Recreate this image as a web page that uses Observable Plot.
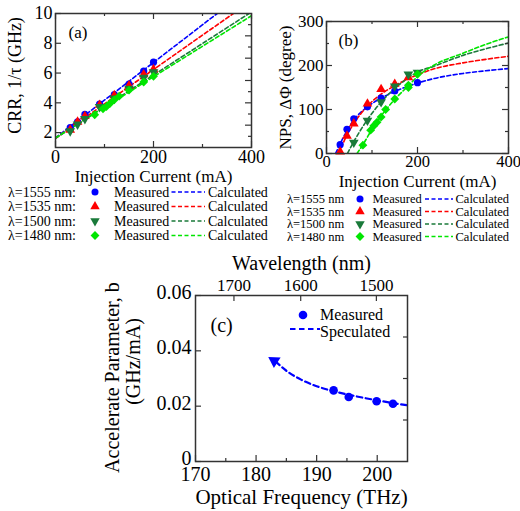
<!DOCTYPE html>
<html><head><meta charset="utf-8">
<script src="https://cdn.jsdelivr.net/npm/d3@7"></script>
<script src="https://cdn.jsdelivr.net/npm/@observablehq/plot@0.6"></script>
<style>
body{margin:0;background:#fff;}
#wrap{position:relative;width:520px;height:511px;overflow:hidden;background:#fff;}
#wrap svg{position:absolute;}
</style></head><body><div id="wrap"></div>
<script>
// ---------------- DATA ----------------
const seriesNames = ["λ=1555 nm", "λ=1535 nm", "λ=1500 nm", "λ=1480 nm"];
const seriesColors = ["#0000ff", "#ff0000", "#1a7a3a", "#00e600"];
const seriesSymbols = ["circle", "triangle", "triangle", "diamond2"];
const seriesRotate = [0, 0, 180, 0];

// (a) CRR measured
const aI1555 = [30, 45, 60, 90, 120, 150, 180, 200];
const aCRR1555 = [2.33, 2.72, 3.22, 3.92, 4.55, 5.25, 6.13, 6.73];
const aI1535 = [30, 45, 60, 90, 120, 150, 180, 200];
const aCRR1535 = [2.18, 2.72, 3.1, 3.85, 4.5, 5.15, 5.9, 6.25];
const aI1500 = [30, 45, 60, 90, 120, 150, 180, 200];
const aCRR1500 = [2.1, 2.55, 2.92, 3.73, 4.3, 4.96, 5.69, 6.07];
const aI1480 = [80, 97, 104, 111, 120, 130, 150, 180, 200];
const aCRR1480 = [3.2, 3.6, 3.75, 3.95, 4.2, 4.45, 4.85, 5.4, 5.78];
// (a) CRR calculated (straight lines, end points)
const aCalcI1555 = [0, 330], aCalcCRR1555 = [1.65, 10];
const aCalcI1535 = [0, 363], aCalcCRR1535 = [1.62, 10];
const aCalcI1500 = [0, 395], aCalcCRR1500 = [1.62, 10];
const aCalcI1480 = [0, 400], aCalcCRR1480 = [1.65, 9.85];

// (b) NPS measured
const bI1555 = [30, 45, 60, 90, 120, 150, 200];
const bNPS1555 = [20, 55, 79, 106, 126, 142, 161];
const bI1535 = [30, 45, 60, 90, 120, 150, 180];
const bNPS1535 = [4, 40, 68, 113, 146, 158, 173];
const bI1500 = [60, 90, 120, 150, 180, 200];
const bNPS1500 = [25, 75, 117, 153, 180, 184];
const bI1480 = [80, 97, 104, 111, 120, 130, 150, 180, 180, 200];
const bNPS1480 = [19, 53, 63, 71, 83, 100, 124, 150, 155, 180];
// (b) NPS calculated
const bCalcI1555 = [20, 30, 45, 60, 90, 120, 150, 200, 235, 300, 350, 400];
const bCalcNPS1555 = [0, 22, 52, 76, 106, 126, 141, 160, 170, 182, 188, 193];
const bCalcI1535 = [25, 30, 45, 60, 90, 120, 150, 180, 200, 235, 300, 350, 400];
const bCalcNPS1535 = [0, 9, 42, 68, 108, 135, 154, 170, 179, 192, 206, 214, 221];
const bCalcI1500 = [46, 60, 90, 120, 150, 180, 200, 235, 300, 350, 400];
const bCalcNPS1500 = [0, 27, 77, 117, 148, 172, 185, 198, 223, 238, 251];
const bCalcI1480 = [67, 80, 100, 120, 150, 180, 200, 235, 300, 350, 400];
const bCalcNPS1480 = [0, 20, 55, 85, 123, 154, 175, 200, 228, 248, 265];

// (c) accelerate parameter
const cFreq = [192.8, 195.3, 199.9, 202.6];
const cB = [0.0257, 0.0233, 0.0218, 0.0209];
const cSpecFreq = [183.2, 185, 187.5, 190, 193, 196, 200, 205];
const cSpecB = [0.0362, 0.0328, 0.0295, 0.0272, 0.0253, 0.0238, 0.0221, 0.0203];
const cArrowFreq = [183.0];
const cArrowB = [0.0364];

// tick labels
const aXTicks = [0, 200, 400], aXMinor = [100, 300];
const aYTicks = [2, 4, 6, 8, 10];
const aRightMajor = [2.5, 4, 5.5, 7, 8.5], aRightMinor = [1.75, 3.25, 4.75, 6.25, 7.75, 9.25];
const bXTicks = [0, 200, 400], bXMinor = [100, 300];
const bYTicks = [0, 100, 200, 300], bYMinor = [50, 150, 250];
const cXTicks = [170, 180, 190, 200], cXMinor = [175, 185, 195];
const cYTicks = [0, 0.02, 0.04, 0.06], cRightTicks = [0.015, 0.03, 0.045];
const cWaveTicks = [1700, 1600, 1500];
const C_LIGHT = 299792.458; // nm*THz

// ---------------- HELPERS ----------------
const FONT = "'Liberation Serif','Times New Roman',serif";
const INK = "#333";
const zip = (xs, ys, kx, ky) => xs.map((x, j) => ({[kx]: x, [ky]: ys[j]}));
function xt(vals, len, innerH, side) {
  const o = {x: d => d, stroke: INK, strokeWidth: 1.2};
  if (side === "bottom") o.insetTop = innerH - len; else o.insetBottom = innerH - len;
  return Plot.tickX(vals, o);
}
function yt(vals, len, innerW, side) {
  const o = {y: d => d, stroke: INK, strokeWidth: 1.2};
  if (side === "left") o.insetRight = innerW - len; else o.insetLeft = innerW - len;
  return Plot.tickY(vals, o);
}
const wrap = document.getElementById("wrap");
function place(el, left, top) { el.style.left = left + "px"; el.style.top = top + "px"; wrap.appendChild(el); }

// ---------------- PANEL A ----------------
{
  const W = 260, H = 190, m = {t: 13, r: 9, b: 43, l: 55};
  const iw = W - m.l - m.r, ih = H - m.t - m.b;
  const meas = [[aI1555, aCRR1555], [aI1535, aCRR1535], [aI1500, aCRR1500], [aI1480, aCRR1480]];
  const calc = [[aCalcI1555, aCalcCRR1555], [aCalcI1535, aCalcCRR1535], [aCalcI1500, aCalcCRR1500], [aCalcI1480, aCalcCRR1480]];
  const marks = [];
  calc.forEach(([xs, ys], i) => marks.push(Plot.line(zip(xs, ys, "I", "v"), {x: "I", y: "v", stroke: seriesColors[i], strokeWidth: 1.6, strokeDasharray: "4,2.5", clip: true})));
  meas.forEach(([xs, ys], i) => marks.push(Plot.dot(zip(xs, ys, "I", "v"), {x: "I", y: "v", fill: seriesColors[i], symbol: seriesSymbols[i], rotate: seriesRotate[i], r: i === 3 ? 4 : 3.6})));
  marks.push(
    Plot.frame({stroke: INK, strokeWidth: 1.5}),
    xt(aXTicks, 6, ih, "bottom"), xt(aXMinor, 3, ih, "bottom"), xt(aXTicks, 6, ih, "top"), xt(aXMinor, 3, ih, "top"),
    yt(aYTicks, 6, iw, "left"), yt(aRightMajor, 6, iw, "right"), yt(aRightMinor, 3, iw, "right"),
    Plot.axisX({ticks: aXTicks, tickSize: 0, tickPadding: 3, label: null, tickFormat: d => String(d)}),
    Plot.axisY({ticks: aYTicks, tickSize: 0, tickPadding: 3, label: null, tickFormat: d => String(d)}),
    Plot.text(["(a)"], {text: d => d, frameAnchor: "top-left", dx: 13, dy: 12, textAnchor: "start", lineAnchor: "top", fontSize: 17}),
    Plot.text(["CRR, 1/τ (GHz)"], {text: d => d, frameAnchor: "left", rotate: -90, dx: -40, dy: -5, textAnchor: "middle", lineAnchor: "middle", fontSize: 18}),
    Plot.text(["Injection Current (mA)"], {text: d => d, frameAnchor: "bottom", dy: 22, textAnchor: "middle", lineAnchor: "top", fontSize: 17})
  );
  const p = Plot.plot({
    width: W, height: H, marginTop: m.t, marginRight: m.r, marginBottom: m.b, marginLeft: m.l,
    style: {fontFamily: FONT, fontSize: "18px", background: "transparent", overflow: "visible", color: "#000"},
    x: {domain: [0, 400], label: null}, y: {domain: [1, 10], label: null},
    marks
  });
  place(p, 0, 0);
}

// ---------------- PANEL B ----------------
{
  const W = 258, H = 190, m = {t: 21, r: 10, b: 37, l: 66};
  const iw = W - m.l - m.r, ih = H - m.t - m.b;
  const meas = [[bI1555, bNPS1555], [bI1535, bNPS1535], [bI1500, bNPS1500], [bI1480, bNPS1480]];
  const calc = [[bCalcI1555, bCalcNPS1555], [bCalcI1535, bCalcNPS1535], [bCalcI1500, bCalcNPS1500], [bCalcI1480, bCalcNPS1480]];
  const marks = [];
  calc.forEach(([xs, ys], i) => marks.push(Plot.line(zip(xs, ys, "I", "v"), {x: "I", y: "v", stroke: seriesColors[i], strokeWidth: 1.6, strokeDasharray: "4,2.5", curve: "monotone-x", clip: true})));
  meas.forEach(([xs, ys], i) => marks.push(Plot.dot(zip(xs, ys, "I", "v"), {x: "I", y: "v", fill: seriesColors[i], symbol: seriesSymbols[i], rotate: seriesRotate[i], r: i === 3 ? 4 : 3.6})));
  marks.push(
    Plot.frame({stroke: INK, strokeWidth: 1.5}),
    xt(bXTicks, 6, ih, "bottom"), xt(bXMinor, 3, ih, "bottom"), xt(bXTicks, 6, ih, "top"), xt(bXMinor, 3, ih, "top"),
    yt(bYTicks, 6, iw, "left"), yt(bYMinor, 3, iw, "left"), yt(bYTicks, 6, iw, "right"), yt(bYMinor, 3, iw, "right"),
    Plot.axisX({ticks: bXTicks, tickSize: 0, tickPadding: 2, label: null, tickFormat: d => String(d), fontSize: 16.5}),
    Plot.axisY({ticks: bYTicks, tickSize: 0, tickPadding: 3, label: null, tickFormat: d => String(d)}),
    Plot.text(["(b)"], {text: d => d, frameAnchor: "top-left", dx: 12, dy: 12, textAnchor: "start", lineAnchor: "top", fontSize: 17}),
    Plot.text(["NPS, ΔΦ (degree)"], {text: d => d, frameAnchor: "left", rotate: -90, dx: -41, dy: 0, textAnchor: "middle", lineAnchor: "middle", fontSize: 17}),
    Plot.text(["Injection Current (mA)"], {text: d => d, frameAnchor: "bottom", dy: 21, textAnchor: "middle", lineAnchor: "top", fontSize: 17})
  );
  const p = Plot.plot({
    width: W, height: H, marginTop: m.t, marginRight: m.r, marginBottom: m.b, marginLeft: m.l,
    style: {fontFamily: FONT, fontSize: "17px", background: "transparent", overflow: "visible", color: "#000"},
    x: {domain: [0, 400], label: null}, y: {domain: [0, 300], label: null},
    marks
  });
  place(p, 260, 0);
}

// ---------------- PANEL C ----------------
{
  const W = 520, H = 261, m = {t: 45, r: 113, b: 50, l: 195};
  const iw = W - m.l - m.r, ih = H - m.t - m.b;
  const waveF = cWaveTicks.map(w => C_LIGHT / w);
  const p = Plot.plot({
    width: W, height: H, marginTop: m.t, marginRight: m.r, marginBottom: m.b, marginLeft: m.l,
    style: {fontFamily: FONT, fontSize: "20px", background: "transparent", overflow: "visible", color: "#000"},
    x: {domain: [170, 205], label: null}, y: {domain: [0, 0.06], label: null},
    marks: [
      Plot.line(zip(cSpecFreq, cSpecB, "f", "b"), {x: "f", y: "b", stroke: "#0000ff", strokeWidth: 2.2, strokeDasharray: "5.5,3.5", curve: "monotone-x", clip: true}),
      Plot.dot(zip(cArrowFreq, cArrowB, "f", "b"), {x: "f", y: "b", symbol: "triangle", rotate: -57, r: 4.6, fill: "#0000ff"}),
      Plot.dot(zip(cFreq, cB, "f", "b"), {x: "f", y: "b", fill: "#0000ff", r: 4.3}),
      Plot.frame({stroke: INK, strokeWidth: 1.5}),
      xt(cXTicks, 6, ih, "bottom"), xt(cXMinor, 3, ih, "bottom"), xt(waveF, 6, ih, "top"),
      yt(cYTicks, 6, iw, "left"), yt(cRightTicks, 4, iw, "right"),
      Plot.axisX({ticks: cXTicks, tickSize: 0, tickPadding: 5, label: null, tickFormat: d => String(d), fontSize: 20}),
      Plot.axisX({anchor: "top", ticks: waveF, tickSize: 0, tickPadding: 5, label: null, tickFormat: f => String(Math.round(C_LIGHT / f)), fontSize: 17}),
      Plot.axisY({ticks: cYTicks, tickSize: 0, tickPadding: 4, dy: -3, label: null, tickFormat: d => String(d), fontSize: 20}),
      Plot.text(["(c)"], {text: d => d, frameAnchor: "top-left", dx: 15, dy: 30, textAnchor: "start", lineAnchor: "middle", fontSize: 20}),
      Plot.text(["Wavelength (nm)"], {text: d => d, frameAnchor: "top", dy: -26, textAnchor: "middle", lineAnchor: "bottom", fontSize: 20}),
      Plot.text(["Optical Frequency (THz)"], {text: d => d, frameAnchor: "bottom", dy: 28, textAnchor: "middle", lineAnchor: "top", fontSize: 21}),
      Plot.text(["Accelerate Parameter, b"], {text: d => d, frameAnchor: "left", rotate: -90, dx: -83, dy: -1, textAnchor: "middle", lineAnchor: "middle", fontSize: 20}),
      Plot.text(["(GHz/mA)"], {text: d => d, frameAnchor: "left", rotate: -90, dx: -62, dy: -17, textAnchor: "middle", lineAnchor: "middle", fontSize: 20})
    ]
  });
  place(p, 0, 250);
}

// ---------------- LEGENDS (overlay) ----------------
{
  const svg = d3.select(wrap).append("svg").attr("width", 520).attr("height", 511)
    .style("left", "0px").style("top", "0px").style("font-family", FONT);
  const symType = {circle: d3.symbolCircle, triangle: d3.symbolTriangle, diamond2: d3.symbolDiamond2};
  function row(y, i, cfg) {
    const fs = cfg.fs, by = y + 0.33 * fs;
    svg.append("text").attr("x", cfg.lx).attr("y", by).attr("font-size", fs).text(seriesNames[i] + cfg.suffix);
    const r = i === 3 ? 4 : 3.5;
    svg.append("path").attr("d", d3.symbol(symType[seriesSymbols[i]], Math.PI * r * r)())
      .attr("transform", `translate(${cfg.mx},${y}) rotate(${seriesRotate[i]})`).attr("fill", seriesColors[i]);
    svg.append("text").attr("x", cfg.tx).attr("y", by).attr("font-size", fs).text("Measured");
    svg.append("line").attr("x1", cfg.l1).attr("x2", cfg.l2).attr("y1", y).attr("y2", y)
      .attr("stroke", seriesColors[i]).attr("stroke-width", 1.5).attr("stroke-dasharray", "4,2.5");
    svg.append("text").attr("x", cfg.cx).attr("y", by).attr("font-size", fs).text("Calculated");
  }
  const rowsA = [192, 206.5, 221, 235.5];
  rowsA.forEach((y, i) => row(y, i, {fs: 14, suffix: ":", lx: 8, mx: 95, tx: 114, l1: 171.5, l2: 205, cx: 208}));
  const rowsB = [199, 211.5, 224, 236.5];
  rowsB.forEach((y, i) => row(y, i, {fs: 12.5, suffix: "", lx: 287, mx: 360, tx: 372.5, l1: 425, l2: 453, cx: 455.5}));
  // legend (c)
  svg.append("circle").attr("cx", 303).attr("cy", 315).attr("r", 4.3).attr("fill", "#0000ff");
  svg.append("text").attr("x", 320).attr("y", 315 + 0.33 * 16).attr("font-size", 16).text("Measured");
  svg.append("line").attr("x1", 290).attr("x2", 320).attr("y1", 329).attr("y2", 329)
    .attr("stroke", "#0000ff").attr("stroke-width", 2.2).attr("stroke-dasharray", "5.5,3.5");
  svg.append("text").attr("x", 320).attr("y", 332 + 0.33 * 16).attr("font-size", 16).text("Speculated");
}
</script></body></html>
